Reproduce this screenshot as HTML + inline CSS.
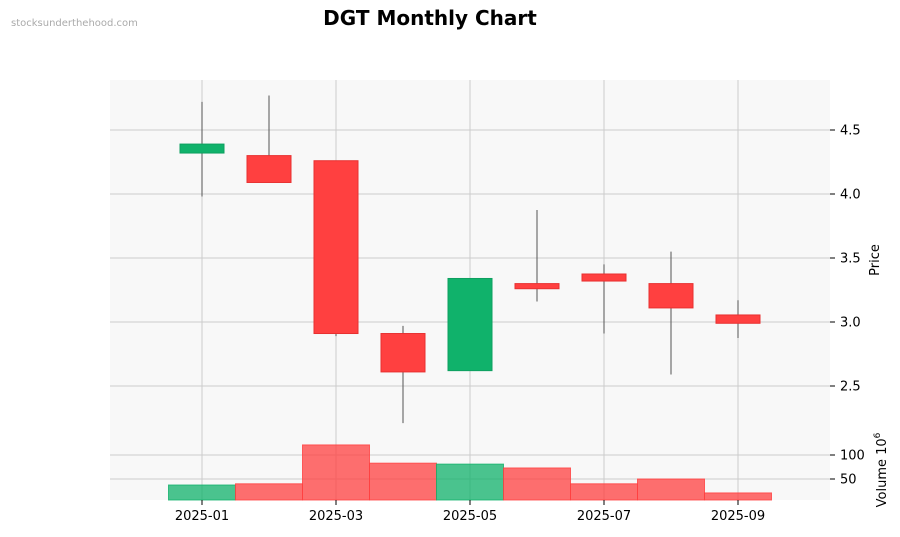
<!DOCTYPE html>
<html><head><meta charset="utf-8"><style>
body{margin:0;background:#fff;font-family:"DejaVu Sans","Liberation Sans",sans-serif}
svg text{font-family:"DejaVu Sans","Liberation Sans",sans-serif}
</style></head><body>
<svg id="c" width="900" height="533" xmlns="http://www.w3.org/2000/svg">
<text x="11" y="26" font-size="10" fill="#aaa">stocksunderthehood.com</text>
<text x="430" y="25" font-size="20" font-weight="bold" text-anchor="middle" fill="#000">DGT Monthly Chart</text>
<rect x="110" y="80" width="720" height="358" fill="#f8f8f8"/>
<rect x="110" y="438" width="720" height="62" fill="#f8f8f8"/>
<g id="grid"></g><g id="vol"></g><g id="candles"></g><g id="axes"></g>
<text transform="translate(879,260) rotate(-90)" font-size="13" text-anchor="middle">Price</text>
<text transform="translate(886,470) rotate(-90)" font-size="13" text-anchor="middle">Volume  10<tspan dy="-6" font-size="9">6</tspan></text>
</svg>
<script>
const months=["2025-01","2025-02","2025-03","2025-04","2025-05","2025-06","2025-07","2025-08","2025-09"];
const opens=[4.32,4.30,4.26,2.91,2.62,3.30,3.375,3.30,3.055];
const highs=[4.72,4.77,4.26,2.97,3.34,3.875,3.45,3.55,3.17];
const lows=[3.98,4.09,2.89,2.21,2.62,3.16,2.91,2.59,2.875];
const closes=[4.39,4.09,2.91,2.61,3.34,3.26,3.32,3.11,2.99];
const volumes=[37.5,40,121,83,81,73,40,50,21];
const priceTicks=[2.5,3.0,3.5,4.0,4.5];
const volTicks=[50,100];
const xLabels=["2025-01","2025-03","2025-05","2025-07","2025-09"];
const NS="http://www.w3.org/2000/svg";
const X=i=>202+i*67;
const Y=p=>130+(4.5-p)*128;
const VY=v=>503-v*0.48;
function mk(g,t,a){const e=document.createElementNS(NS,t);for(const k in a)e.setAttribute(k,a[k]);document.getElementById(g).appendChild(e);return e;}
priceTicks.forEach(t=>{
 const l=mk('grid','line',{x1:110,x2:830,y1:Y(t),y2:Y(t),stroke:'#ccc'});
 
 
 mk('axes','line',{x1:830,x2:835,y1:Y(t),y2:Y(t),stroke:'#000'});
 const tx=mk('axes','text',{x:840,y:Y(t)+4.5,'font-size':13});tx.textContent=t.toFixed(1);
 
 
});
volTicks.forEach(t=>{
 mk('grid','line',{x1:110,x2:830,y1:VY(t),y2:VY(t),stroke:'#ccc'});
 mk('axes','line',{x1:830,x2:835,y1:VY(t),y2:VY(t),stroke:'#000'});
 const tx=mk('axes','text',{x:840,y:VY(t)+4.5,'font-size':13});tx.textContent=t;
 
 
});
xLabels.forEach(m=>{
 const i=months.indexOf(m),x=X(i);
 mk('grid','line',{x1:x,x2:x,y1:80,y2:500,stroke:'#ccc'});
 mk('axes','line',{x1:x,x2:x,y1:500,y2:505,stroke:'#000'});
 const tx=mk('axes','text',{x:x,y:520,'font-size':13,'text-anchor':'middle'});tx.textContent=m;
 
 
});
months.forEach((m,i)=>{
 const up=closes[i]>=opens[i],x=X(i);
 const v=mk('vol','rect',{x:x-33.5,y:VY(volumes[i]),width:67,height:500-VY(volumes[i]),fill:up?'#10b26b':'#ff4040','fill-opacity':0.75,stroke:up?'#10b26b':'#ff4040','stroke-opacity':0.8});
 
 
 const w=mk('candles','line',{x1:x,x2:x,y1:Y(highs[i]),y2:Y(lows[i]),stroke:'#555','stroke-width':1});
 
 
 const top=Y(Math.max(opens[i],closes[i])),bot=Y(Math.min(opens[i],closes[i]));
 const b=mk('candles','rect',{x:x-22,y:top,width:44,height:Math.max(bot-top,1),fill:up?'#10b26b':'#ff4040',stroke:up?'#0ea060':'#e83030','stroke-width':1});
 
 
});
</script>
</body></html>
